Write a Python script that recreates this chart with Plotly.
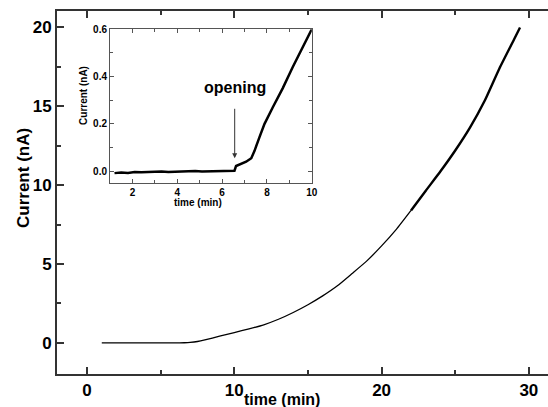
import plotly.graph_objects as go

# Main curve (time in min, current in nA)
main_time = [1.0, 2.0, 3.0, 4.0, 5.0, 6.0, 6.6, 7.0, 7.5, 8.0, 9.0, 10.0, 11.0, 12.0,
             13.0, 14.0, 15.0, 16.0, 17.0, 18.0, 19.0, 20.0, 21.0, 22.0, 23.0, 24.0,
             25.0, 26.0, 27.0, 28.0, 29.0, 29.4]
main_current = [0.0, 0.0, 0.0, 0.0, 0.0, 0.0, 0.01, 0.03, 0.09, 0.19, 0.43, 0.66, 0.89, 1.15,
                1.5, 1.93, 2.42, 2.98, 3.62, 4.4, 5.2, 6.15, 7.2, 8.4, 9.65, 10.88,
                12.2, 13.65, 15.35, 17.4, 19.25, 20.0]

# Inset (zoom on the opening)
inset_time = [1.2, 1.5, 1.8, 2.1, 2.4, 2.7, 3.0, 3.3, 3.6, 3.9, 4.2, 4.5, 4.8, 5.1,
              5.4, 5.7, 6.0, 6.3, 6.55, 6.62, 6.8, 7.07, 7.3, 7.44, 7.67, 7.89, 8.26,
              8.7, 9.15, 9.59, 10.0]
inset_current = [-0.008, -0.005, -0.007, -0.003, -0.004, -0.002, -0.003, -0.001, -0.003,
                 -0.002, 0.0, -0.002, 0.001, -0.001, 0.0, 0.001, -0.001, 0.0, 0.002, 0.022,
                 0.028, 0.04, 0.055, 0.085, 0.145, 0.2, 0.27, 0.35, 0.44, 0.525, 0.6]

x_ticks = [0, 10, 20, 30]
y_ticks = [0, 5, 10, 15, 20]

split = main_time.index(22.0)

FONT = "Liberation Sans, Arial, sans-serif"
AX = "#333333"

fig = go.Figure()
fig.add_trace(go.Scatter(x=main_time[:split + 1], y=main_current[:split + 1], mode="lines",
                         line=dict(color="black", width=1.3, shape="spline", smoothing=0.5),
                         showlegend=False))
fig.add_trace(go.Scatter(x=main_time[split:], y=main_current[split:], mode="lines",
                         line=dict(color="black", width=2.4, shape="spline", smoothing=0.5),
                         showlegend=False))
fig.add_trace(go.Scatter(x=inset_time, y=inset_current, mode="lines", xaxis="x2", yaxis="y2",
                         line=dict(color="black", width=2.5), showlegend=False))

fig.update_layout(
    width=548, height=407,
    margin=dict(l=57, r=0, t=11, b=33, autoexpand=False),
    paper_bgcolor="white", plot_bgcolor="white",
    font=dict(family=FONT, color="black"),
    xaxis=dict(range=[-2.04, 31.3], tickvals=x_ticks, ticks="inside", ticklen=7,
               tickwidth=1.5, tickcolor=AX, showline=True, linecolor=AX, linewidth=2,
               mirror="ticks", showgrid=False, zeroline=False, automargin=False,
               tickfont=dict(size=17, weight="bold", family=FONT),
               minor=dict(tickvals=[5, 15, 25], ticks="inside", ticklen=4, tickcolor=AX,
                          tickwidth=1.5, showgrid=False)),
    yaxis=dict(range=[-1.97, 21.04], tickvals=y_ticks, ticks="inside", ticklen=7,
               tickwidth=1.5, tickcolor=AX, showline=True, linecolor=AX, linewidth=2,
               mirror=False, showgrid=False, zeroline=False, automargin=False,
               tickfont=dict(size=17, weight="bold", family=FONT),
               minor=dict(tickvals=[2.5, 7.5, 12.5, 17.5], ticks="inside", ticklen=4,
                          tickcolor=AX, tickwidth=1.5, showgrid=False)),
    xaxis2=dict(domain=[0.108, 0.519], anchor="y2", range=[1, 10], dtick=2, tick0=0,
                ticks="inside", ticklen=4, tickwidth=1, tickcolor="#555", showline=True,
                linecolor="#555", linewidth=1, mirror="ticks", showgrid=False, zeroline=False,
                automargin=False, tickfont=dict(size=10, weight="bold", family=FONT),
                minor=dict(dtick=1, tick0=0, ticks="inside", ticklen=3, tickcolor="#555",
                           showgrid=False)),
    yaxis2=dict(domain=[0.526, 0.950], anchor="x2", range=[-0.05, 0.6], dtick=0.2, tick0=0,
                tickformat=".1f", ticks="inside", ticklen=4, tickwidth=1, tickcolor="#555",
                showline=True, linecolor="#555", linewidth=1, mirror="ticks", showgrid=False,
                zeroline=False, automargin=False,
                tickfont=dict(size=10, weight="bold", family=FONT),
                minor=dict(dtick=0.1, tick0=0, ticks="inside", ticklen=3, tickcolor="#555",
                           showgrid=False)),
)

ann = []
ann.append(dict(text="time (min)", xref="paper", yref="paper", x=0.459, y=-0.069,
                xanchor="center", yanchor="middle", showarrow=False,
                font=dict(size=16, weight="bold", family=FONT)))
ann.append(dict(text="Current (nA)", xref="paper", yref="paper", x=-0.0672, y=0.54,
                xanchor="center", yanchor="middle", textangle=-90, showarrow=False,
                font=dict(size=17, weight="bold", family=FONT)))
ann.append(dict(text="time (min)", xref="paper", yref="paper", x=0.288, y=0.472,
                xanchor="center", yanchor="middle", showarrow=False,
                font=dict(size=10, weight="bold", family=FONT)))
ann.append(dict(text="Current (nA)", xref="paper", yref="paper", x=0.055, y=0.766,
                xanchor="center", yanchor="middle", textangle=-90, showarrow=False,
                font=dict(size=10, weight="bold", family=FONT)))
ann.append(dict(text="opening", xref="paper", yref="paper", x=0.3635, y=0.79,
                xanchor="center", yanchor="middle", showarrow=False,
                font=dict(size=16, weight="bold", family=FONT)))
ann.append(dict(text="", x=6.56, y=0.055, xref="x2", yref="y2", ax=6.56, ay=0.27,
                axref="x2", ayref="y2", showarrow=True, arrowhead=2, arrowsize=1,
                arrowwidth=1, arrowcolor="#333"))
fig.update_layout(annotations=ann)

fig.write_html("out.html", config={"displayModeBar": False},
               post_script="document.body.style.margin='0';document.body.style.padding='0';")
